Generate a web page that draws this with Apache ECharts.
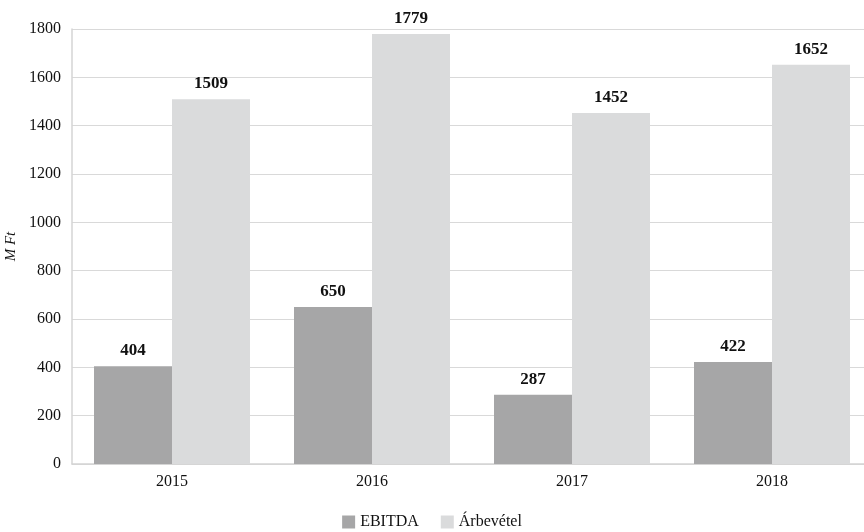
<!DOCTYPE html>
<html>
<head>
<meta charset="utf-8">
<script src="https://cdn.jsdelivr.net/npm/echarts@6/dist/echarts.min.js"></script>
<style>
  html, body { margin: 0; padding: 0; background: #fff; }
  #chart { width: 864px; height: 532px; }
</style>
</head>
<body>
<div id="chart"></div>
<script>
// Years on the category axis
const years = ['2015', '2016', '2017', '2018'];
// EBITDA per year (M Ft)
const ebitda = [404, 650, 287, 422];
// Revenue per year (M Ft)
const arbevetel = [1509, 1779, 1452, 1652];
// Value-axis ticks
const yTicks = [0, 200, 400, 600, 800, 1000, 1200, 1400, 1600, 1800];

const FONT = '"Liberation Serif", "DejaVu Serif", serif';

const chart = echarts.init(document.getElementById('chart'), null, { renderer: 'canvas' });

const labelStyle = {
  show: true,
  position: 'top',
  distance: 7,
  fontFamily: FONT,
  fontWeight: 'bold',
  fontSize: 17,
  color: '#111'
};

chart.setOption({
  animation: false,
  textStyle: { fontFamily: FONT },
  grid: { left: 72, right: -8, top: 29, bottom: 68, containLabel: false, outerBoundsMode: 'none' },
  legend: {
    bottom: -3,
    left: 'center',
    itemWidth: 13,
    itemHeight: 13,
    itemGap: 22,
    icon: 'rect',
    textStyle: { fontFamily: FONT, fontSize: 16, color: '#111' },
    data: ['EBITDA', 'Árbevétel']
  },
  xAxis: {
    type: 'category',
    data: years,
    axisLine: { show: true, lineStyle: { color: '#d4d4d4', width: 1.5 } },
    axisTick: { show: false },
    axisLabel: { fontFamily: FONT, fontSize: 16, color: '#111', margin: 10 }
  },
  yAxis: {
    type: 'value',
    min: yTicks[0],
    max: yTicks[yTicks.length - 1],
    interval: 200,
    name: 'M Ft',
    nameLocation: 'middle',
    nameGap: 41,
    nameRotate: 90,
    nameTextStyle: { fontFamily: FONT, fontStyle: 'italic', fontSize: 15, color: '#111' },
    axisLine: { show: true, lineStyle: { color: '#d4d4d4', width: 1.5 } },
    axisTick: { show: false },
    axisLabel: {
      fontFamily: FONT, fontSize: 16, color: '#111', margin: 11,
      formatter: v => String(v)
    },
    splitLine: { show: true, lineStyle: { color: '#d9d9d9', width: 1.2 } }
  },
  series: [
    {
      name: 'EBITDA',
      type: 'bar',
      data: ebitda,
      barWidth: '39%',
      barGap: '0%',
      itemStyle: { color: '#a6a6a7' },
      label: labelStyle
    },
    {
      name: 'Árbevétel',
      type: 'bar',
      data: arbevetel,
      barWidth: '39%',
      barGap: '0%',
      itemStyle: { color: '#dadbdc' },
      label: labelStyle
    }
  ]
});
</script>
</body>
</html>
